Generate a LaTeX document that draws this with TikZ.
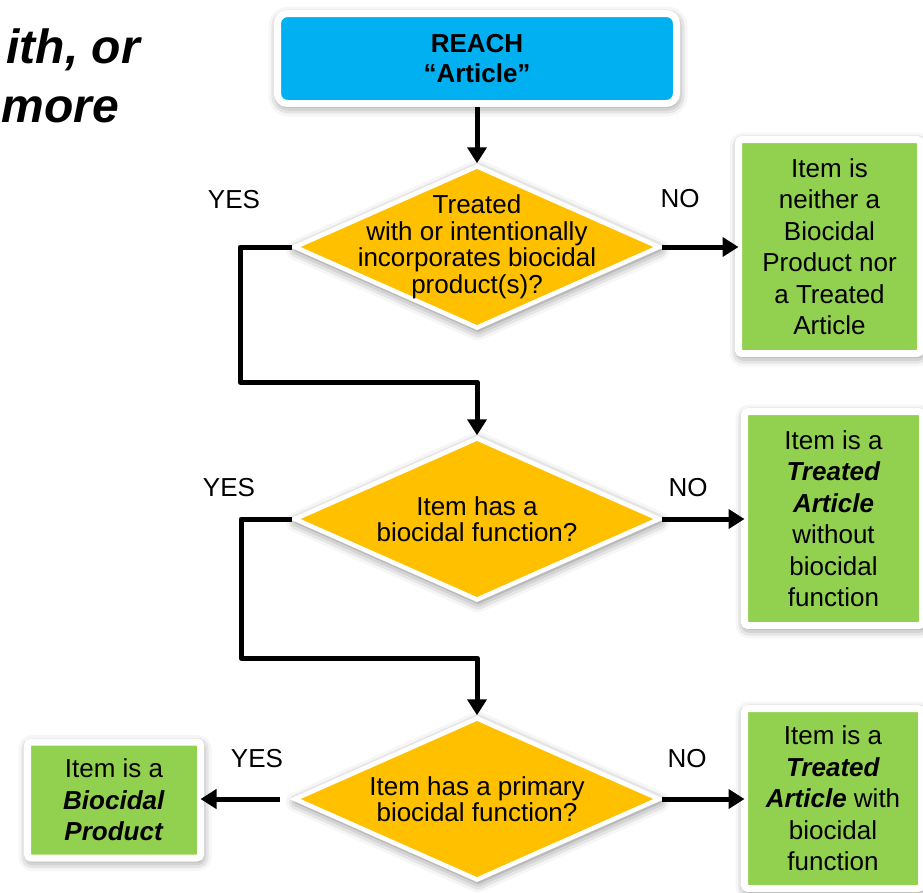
\documentclass[tikz,border=0pt]{standalone}
\usepackage{fontspec}
\setmainfont{Liberation Sans}
\usepackage{xcolor}
\usepackage{tikz}
\usetikzlibrary{shapes,shapes.geometric,arrows.meta,positioning,calc,shadows.blur}

\definecolor{reachblue}{HTML}{00B0F0}
\definecolor{askyellow}{HTML}{FFC000}
\definecolor{itemgreen}{HTML}{92D050}

\begin{document}
\begin{tikzpicture}[
      x=1pt, y=-1pt,
      glow/.style={blur shadow={shadow xshift=1pt, shadow yshift=-3pt,
                   shadow blur radius=10pt, shadow opacity=55}},
      box/.style={rectangle, draw=white, glow, inner sep=0pt, align=center},
      reach/.style={box, fill=reachblue, line width=7pt, rounded corners=10pt,
                    minimum width=399pt, minimum height=90pt,
                    font=\bfseries\fontsize{26}{30}\selectfont},
      item/.style={box, fill=itemgreen, line width=7pt, rounded corners=3.5pt,
                   outer sep=0pt, font=\fontsize{26}{31.5}\selectfont},
      ask/.style={diamond, draw=white, line width=4.5pt, fill=askyellow, glow,
                  inner sep=-100pt, minimum width=366pt, minimum height=163pt,
                  align=center, font=\fontsize{26}{26.5}\selectfont},
      head/.style={inner sep=0pt, font=\bfseries\itshape\fontsize{48}{52}\selectfont},
      lbl/.style={anchor=base, inner sep=0pt, font=\fontsize{26}{26}\selectfont},
      arr/.style={->, >={Triangle[length=16pt, width=19pt]}, line width=5pt,
                  line join=round},
    ]

    \path[use as bounding box] (0,0) rectangle (923,892);
    \clip (0,0) rectangle (923,892);

    % Heading, cut at the left edge
    \node[head, anchor=base east] (head1) at (140,63) {ith, or};
    \node[head, anchor=base east] (head2) at (119,122) {more};

    % Start
    \node[reach] (reach) at (477,58.5) {REACH\\``Article''};

    % Questions
    \node[ask] (q1) at (477,247) {Treated\\with or intentionally\\incorporates biocidal\\product(s)?};
    \node[ask] (q2) at (477,519) {Item has a\\biocidal function?};
    \node[ask] (q3) at (477,799) {Item has a primary\\biocidal function?};

    % Outcomes
    \node[item, minimum width=182pt, minimum height=214pt] (neither) at (829.5,246.5)
      {Item is\\neither a\\Biocidal\\Product nor\\a Treated\\Article};
    \node[item, minimum width=178pt, minimum height=214pt] (tanofn) at (833.5,518.5)
      {Item is a\\\textbf{\textit{Treated}}\\\textbf{\textit{Article}}\\without\\biocidal\\function};
    \node[item, minimum width=177pt, minimum height=180pt] (tafn) at (833,798.5)
      {Item is a\\\textbf{\textit{Treated}}\\\textbf{\textit{Article}} with\\biocidal\\function};
    \node[item, minimum width=173pt, minimum height=116pt] (bp) at (114,800)
      {Item is a\\\textbf{\textit{Biocidal}}\\\textbf{\textit{Product}}};

    % YES / NO
    \node[lbl] (yes1) at (234,208) {YES};
    \node[lbl] (no1) at (680,207) {NO};
    \node[lbl] (yes2) at (229,496) {YES};
    \node[lbl] (no2) at (688,496) {NO};
    \node[lbl] (yes3) at (257,767) {YES};
    \node[lbl] (no3) at (687,767) {NO};

    % Bends of the YES lines
    \coordinate (bend1) at (240,382);
    \coordinate (bend2) at (241,658);

    % Arrows
    \draw[arr] (reach) -- (q1);
    \draw[arr] (q1.east) -- (q1.east -| neither.west);
    \draw[arr] (q1.west) -| (bend1) -| (q2.north);
    \draw[arr] (q2.east) -- (q2.east -| tanofn.west);
    \draw[arr] (q2.west) -| (bend2) -| (q3.north);
    \draw[arr] (q3.east) -- (q3.east -| tafn.west);
    \draw[arr, shorten <=12pt] (q3.west) -- (q3.west -| bp.east);

\end{tikzpicture}
\end{document}
